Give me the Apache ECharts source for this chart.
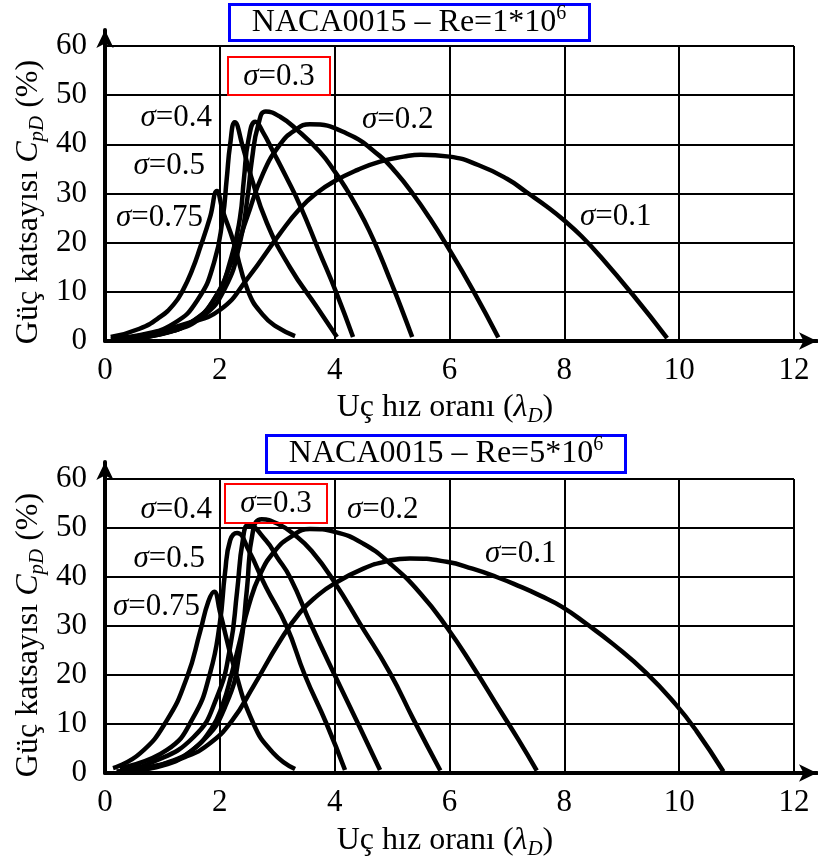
<!DOCTYPE html>
<html><head><meta charset="utf-8">
<script src="https://cdn.jsdelivr.net/npm/echarts@6/dist/echarts.min.js"></script>
<style>html,body{margin:0;padding:0;background:#fff}#c{width:818px;height:863px}</style>
</head><body><div id="c"></div>
<script>
// ---- tick values ----
const xTicks = [0, 2, 4, 6, 8, 10, 12];
const yTicks = [0, 10, 20, 30, 40, 50, 60];
const sigmaNames = ['0.75', '0.5', '0.4', '0.3', '0.2', '0.1'];
const titleTexts = ['NACA0015 – Re=1*10', 'NACA0015 – Re=5*10'];
const titleExp = '6';

// ---- Re = 1e6 (top) : [lambda_D, CpD %] ----
const re1_s075 = [[0.1,0.8],[0.6,2.5],[0.96,4.9],[1.2,7.5],[1.36,10.4],[1.52,14.5],[1.66,19.1],[1.83,25.2],[1.95,30.5],[2.05,26.5],[2.23,20.5],[2.49,10.2],[2.75,5.3],[3.0,2.8],[3.31,1]];
const re1_s05  = [[0.15,0.6],[0.6,1.2],[1.2,3.6],[1.62,8.5],[1.9,16],[2.05,25],[2.12,33],[2.18,40],[2.26,44.5],[2.4,39.5],[2.53,34],[2.82,24],[3.22,15],[3.69,6.9],[4.04,0.8]];
const re1_s04  = [[0.3,0.5],[0.9,1.3],[1.55,4.2],[1.95,9.5],[2.2,17],[2.35,25],[2.42,33],[2.5,41],[2.62,44.6],[2.75,42.5],[2.93,38.5],[3.15,33.5],[3.4,27.5],[3.72,18.5],[4.03,9.8],[4.32,0.8]];
const re1_s03  = [[0.4,0.5],[1.1,1.8],[1.7,5],[2.1,11],[2.35,20],[2.48,29],[2.56,37],[2.67,44],[2.8,46.7],[3.05,45.6],[3.34,43],[3.74,38.5],[4.0,34.5],[4.2,31],[4.4,27],[4.6,22.5],[4.8,17.2],[4.97,12.3],[5.15,7],[5.35,0.8]];
const re1_s02  = [[0.3,0.3],[0.9,1.2],[1.5,3.8],[1.9,8.5],[2.2,16],[2.47,25],[2.75,34],[3.05,40],[3.3,42.8],[3.57,44.1],[4.21,42.2],[4.79,37.6],[5.08,34.1],[5.37,29.8],[5.66,24.9],[5.95,19.5],[6.41,10.3],[6.85,0.7]];
const re1_s01  = [[0.1,0.3],[0.8,1.5],[1.4,3.5],[2.0,6.3],[2.5,13],[3.05,21.9],[3.4,27],[3.7,30.2],[3.98,32.4],[4.4,34.8],[4.79,36.5],[5.2,37.5],[5.5,37.9],[6.0,37.5],[6.5,35.8],[7.0,33],[7.35,30.2],[7.7,27.3],[8.0,24.5],[8.3,21.3],[8.62,17.3],[9.2,9.3],[9.79,0.6]];

// ---- Re = 5e6 (bottom) ----
const re5_s075 = [[0.14,1],[0.61,4],[1.08,10.8],[1.43,19.6],[1.66,29],[1.8,35],[1.9,37],[2.0,33],[2.23,22.4],[2.58,10.2],[2.93,4.1],[3.31,0.8]];
const re5_s05  = [[0.26,1],[1.08,4.7],[1.54,11.4],[1.83,20.4],[2.0,30.6],[2.09,40.8],[2.18,47.5],[2.3,49],[2.5,45.5],[2.8,38],[3.16,30],[3.48,20],[3.86,10],[4.18,0.6]];
const re5_s04  = [[0.26,0.5],[0.78,2],[1.54,7.3],[1.95,15.5],[2.18,25.7],[2.3,37],[2.4,47.5],[2.5,50.6],[2.8,47.5],[3.0,44],[3.22,40],[3.6,30],[4.0,20],[4.41,10],[4.79,0.6]];
const re5_s03  = [[0.4,0.5],[0.96,1.6],[1.66,6.1],[2.12,14.3],[2.35,25.1],[2.47,37.3],[2.58,49.6],[2.73,51.8],[3.0,50.9],[3.3,48.6],[3.6,45.3],[4.0,38.9],[4.44,30.5],[4.96,20.5],[5.37,11],[5.84,0.5]];
const re5_s02  = [[0.3,0.3],[1.0,1.5],[1.5,4.5],[1.85,9],[2.05,14],[2.2,20],[2.35,27],[2.5,34],[2.7,40.5],[2.95,45.2],[3.25,48.3],[3.57,49.8],[4.0,49.2],[4.5,46.8],[4.96,42.8],[5.49,36.7],[5.95,29.8],[6.41,21.7],[6.88,12.8],[7.2,6.8],[7.52,0.5]];
const re5_s01  = [[0.2,0.3],[0.8,1.3],[1.4,3.3],[1.8,5.8],[2.2,10.5],[2.6,18],[3.05,27],[3.4,32.8],[3.7,36.2],[4.0,38.7],[4.5,41.7],[4.9,43.2],[5.31,43.8],[5.95,43.1],[6.4,41.7],[6.82,40.0],[7.2,38.2],[7.58,36.2],[7.96,33.9],[8.39,30.4],[8.85,26.3],[9.43,20.4],[9.94,14.0],[10.3,8.6],[10.77,0.3]];

const topSeries = [re1_s075, re1_s05, re1_s04, re1_s03, re1_s02, re1_s01];
const botSeries = [re5_s075, re5_s05, re5_s04, re5_s03, re5_s02, re5_s01];

const FONT = '"Liberation Serif", "Times New Roman", serif';

// data axes (grid 0 = top, grid 1 = bottom): gridlines + labels
function xData(i) {
  return {
    gridIndex: i, type: 'value', min: xTicks[0], max: xTicks[xTicks.length - 1], interval: xTicks[1] - xTicks[0],
    axisLine: { show: false }, axisTick: { show: false },
    axisLabel: { color: '#000', fontFamily: FONT, fontSize: 31, margin: 14 },
    splitLine: { show: true, lineStyle: { color: '#000', width: 2 } }
  };
}
function yData(i) {
  return {
    gridIndex: i, type: 'value', min: yTicks[0], max: yTicks[yTicks.length - 1], interval: yTicks[1] - yTicks[0],
    axisLine: { show: false }, axisTick: { show: false },
    axisLabel: { color: '#000', fontFamily: FONT, fontSize: 31, margin: 18 },
    splitLine: { show: true, lineStyle: { color: '#000', width: 2 } }
  };
}
// arrow axes (grid 2 = top, grid 3 = bottom): thick axis lines with arrow heads only
function arrowAx(i, pos) {
  return {
    gridIndex: i, type: 'value', min: 0, max: 1, position: pos,
    axisLine: { show: true, onZero: false, symbol: ['none', 'arrow'], symbolSize: [13, 18],
      lineStyle: { color: '#000', width: 4 } },
    axisTick: { show: false }, axisLabel: { show: false }, splitLine: { show: false }
  };
}

const series = [];
[topSeries, botSeries].forEach((set, gi) => {
  set.forEach((d, k) => {
    series.push({
      name: (gi === 0 ? 'Re1e6 ' : 'Re5e6 ') + 'σ=' + sigmaNames[k],
      type: 'line', xAxisIndex: gi, yAxisIndex: gi, data: d,
      smooth: 0.5, showSymbol: false, symbol: 'none', clip: false, z: 5,
      lineStyle: { color: '#000', width: 4.5 }, silent: true
    });
  });
});

const LS = 31;
const richBase = {
  i: { fontStyle: 'italic', fontFamily: FONT, fontSize: LS, lineHeight: 38 },
  n: { fontFamily: FONT, fontSize: LS, lineHeight: 38 },
  ai: { fontStyle: 'italic', fontFamily: FONT, fontSize: 32, lineHeight: 38 },
  an: { fontFamily: FONT, fontSize: 32, lineHeight: 38 },
  s: { fontStyle: 'italic', fontFamily: FONT, fontSize: 21, lineHeight: 21, verticalAlign: 'bottom' },
  tn: { fontFamily: FONT, fontSize: 32, lineHeight: 38 },
  sup: { fontFamily: FONT, fontSize: 20, lineHeight: 20, verticalAlign: 'top' }
};

function txt(text, x, y, align, rot) {
  return {
    type: 'text', x: x, y: y, rotation: rot || 0, silent: true, z: 10,
    style: {
      text: text, fill: '#000', fontFamily: FONT, fontSize: LS,
      align: align || 'center', verticalAlign: 'middle', rich: richBase
    }
  };
}
function box(x, y, w, h, color, lw) {
  return { type: 'rect', shape: { x: x, y: y, width: w, height: h }, silent: true, z: 10,
    style: { fill: null, stroke: color, lineWidth: lw } };
}
const sig = s => '{i|σ}{n|=' + s + '}';
const yName = '{an|Güç katsayısı }{ai|C}{s|pD}{an| (%)}';
const xName = '{an|Uç hız oranı (}{ai|λ}{s|D}{an|)}';
const ttl = t => '{tn|' + t + '}{sup|' + titleExp + '}';

const graphic = [
  // top chart
  box(229.5, 4.5, 360, 36, '#0000ff', 3),
  txt(ttl(titleTexts[0]), 409, 23),
  box(228, 57, 102, 38, '#ff0000', 2),
  txt(sig(sigmaNames[3]), 279, 77),
  txt(sig(sigmaNames[2]), 212, 118, 'right'),
  txt(sig(sigmaNames[1]), 205, 166, 'right'),
  txt(sig(sigmaNames[0]), 203, 218, 'right'),
  txt(sig(sigmaNames[4]), 362, 120, 'left'),
  txt(sig(sigmaNames[5]), 580, 217, 'left'),
  txt(yName, 29, 202, 'center', Math.PI / 2),
  txt(xName, 445, 408),
  // bottom chart
  box(266.5, 435.5, 359, 37, '#0000ff', 3),
  txt(ttl(titleTexts[1]), 446, 454),
  box(225, 484, 102, 39, '#ff0000', 2),
  txt(sig(sigmaNames[3]), 276, 504),
  txt(sig(sigmaNames[2]), 212, 510, 'right'),
  txt(sig(sigmaNames[1]), 205, 559, 'right'),
  txt(sig(sigmaNames[0]), 200, 607, 'right'),
  txt(sig(sigmaNames[4]), 347, 510, 'left'),
  txt(sig(sigmaNames[5]), 485, 554, 'left'),
  txt(yName, 29, 635, 'center', Math.PI / 2),
  txt(xName, 445, 841)
];

const chart = echarts.init(document.getElementById('c'), null, { renderer: 'canvas' });
chart.setOption({
  animation: false,
  backgroundColor: '#fff',
  grid: [
    { left: 105, width: 689, top: 46, height: 295 },
    { left: 105, width: 689, top: 479, height: 294 },
    { left: 105, width: 712, top: 30, height: 311 },
    { left: 105, width: 712, top: 462, height: 311 }
  ],
  xAxis: [xData(0), xData(1), arrowAx(2, 'bottom'), arrowAx(3, 'bottom')],
  yAxis: [yData(0), yData(1), arrowAx(2, 'left'), arrowAx(3, 'left')],
  series: series,
  graphic: graphic
});
</script></body></html>
